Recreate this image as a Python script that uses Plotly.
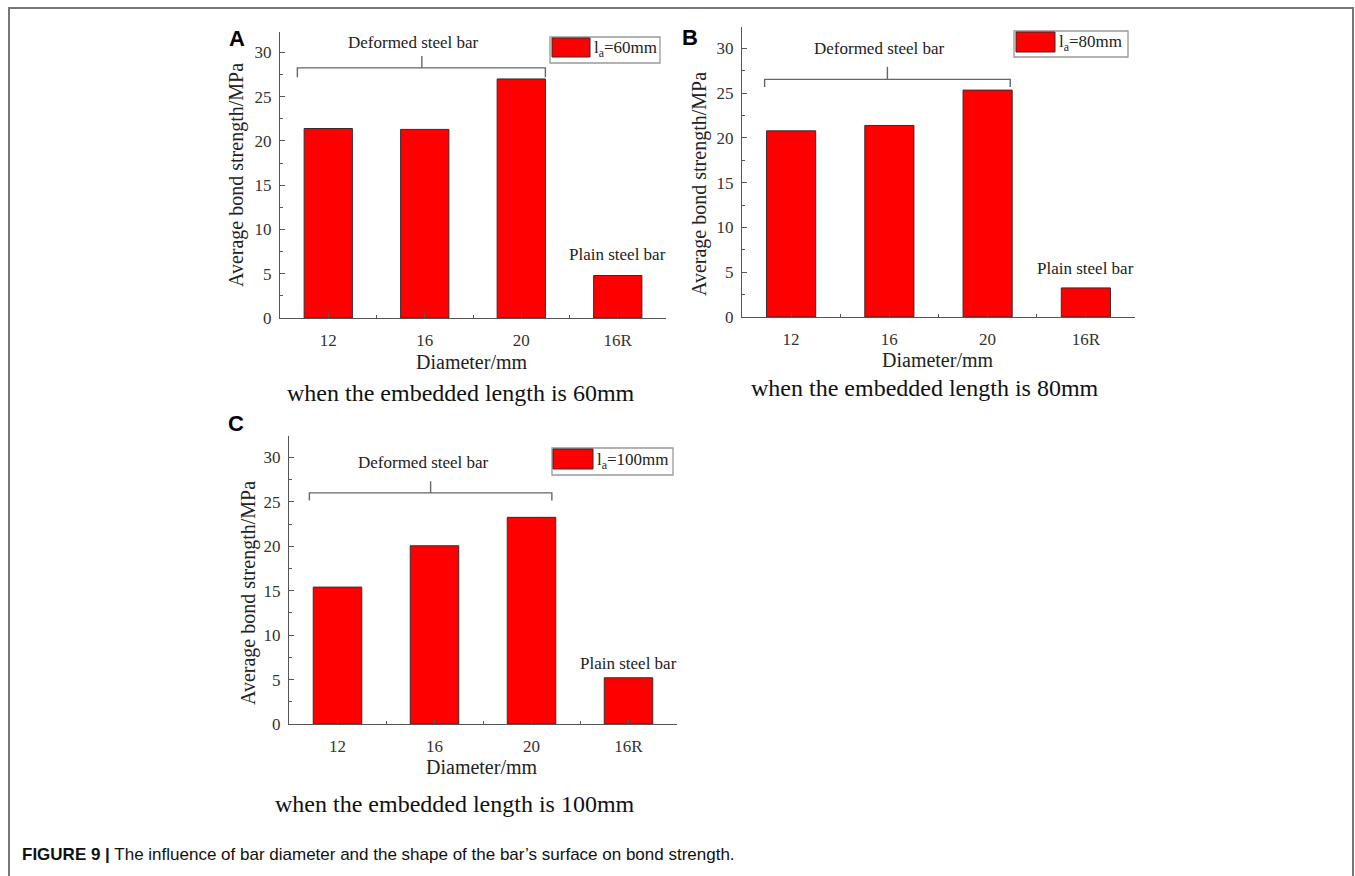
import plotly.graph_objects as go

W, H = 1355, 876
H_EFF = 866  # empirical vertical correction for the capture

# ---- data ----
categories = ["12", "16", "20", "16R"]
strength_60mm = [21.4, 21.3, 27.0, 4.8]
strength_80mm = [20.8, 21.4, 25.35, 3.25]
strength_100mm = [15.4, 20.05, 23.25, 5.2]
legend_labels = ["l<sub>a</sub>=60mm", "l<sub>a</sub>=80mm", "l<sub>a</sub>=100mm"]
captions = ["when the embedded length is 60mm",
            "when the embedded length is 80mm",
            "when the embedded length is 100mm"]
panel_letters = ["A", "B", "C"]

SERIF = "Liberation Serif, Times New Roman, serif"
SANS = "Liberation Sans, Arial, sans-serif"
RED = "#FF0000"


def px(x):
    return x / W


def py(y):
    return 1 - y / H_EFF


# panel geometry in pixels: left, right, top, bottom
panels = [
    dict(l=280, r=666, t=32, b=318, ymax=32.3,
         ytitle=(237, 175), xtitle=(472, 362), cap=(461, 393), letter=(237, 38),
         leg=(550, 660, 37, 63), sw=(552, 590, 38, 57),
         br=(-0.32, 2.25, 0.97, 28.25, 27.2, 29.6), dtext=(0.88, 31.1), ptext=(3.0, 7.2)),
    dict(l=742, r=1135, t=27, b=317, ymax=32.4,
         ytitle=(699, 184), xtitle=(938, 360), cap=(925, 388), letter=(690, 37),
         leg=(1014, 1128, 31, 57), sw=(1016, 1055, 32, 52),
         br=(-0.27, 2.23, 0.98, 26.55, 25.7, 27.95), dtext=(0.9, 30.0), ptext=(3.0, 5.45)),
    dict(l=289, r=677, t=436, b=724, ymax=32.4,
         ytitle=(248, 593), xtitle=(482, 767), cap=(455, 804), letter=(236, 423),
         leg=(552, 673, 448, 475), sw=(553, 593, 449, 469),
         br=(-0.29, 2.21, 0.96, 26.0, 25.15, 27.3), dtext=(0.89, 29.4), ptext=(3.0, 6.8)),
]

series = [strength_60mm, strength_80mm, strength_100mm]

fig = go.Figure()
shapes = []
annotations = []


def text_at(x, y, text, font, **kw):
    d = dict(xref="paper", yref="paper", x=px(x), y=py(y), text=text, showarrow=False,
             xanchor="center", yanchor="middle", font=font)
    d.update(kw)
    annotations.append(d)


for i, (p, vals) in enumerate(zip(panels, series)):
    n = "" if i == 0 else str(i + 1)
    xa, ya = "x" + n, "y" + n
    fig.add_trace(go.Bar(
        x=list(range(len(categories))), y=vals, width=0.5,
        marker=dict(color=RED, line=dict(color="#3a2a2a", width=1)),
        xaxis=xa, yaxis=ya, showlegend=False, name=legend_labels[i]))

    axis_common = dict(showline=True, linecolor="#555", linewidth=1.3, showgrid=False,
                       zeroline=False, ticks="inside", ticklen=5, tickcolor="#555",
                       tickfont=dict(family=SERIF, size=17, color="#333"))
    fig.layout["xaxis" + n] = dict(
        axis_common, domain=[px(p["l"]), px(p["r"])], range=[-0.5, 3.5],
        tickmode="array", tickvals=list(range(len(categories))), ticktext=categories,
        anchor=ya, ticklabelstandoff=6,
        minor=dict(tickmode="array", tickvals=[0.5, 1.5, 2.5], ticks="inside",
                   ticklen=3, tickcolor="#555"))
    fig.layout["yaxis" + n] = dict(
        axis_common, domain=[py(p["b"]), py(p["t"])], range=[0, p["ymax"]],
        tickmode="linear", tick0=0, dtick=5, anchor=xa, ticklabelstandoff=4,
        minor=dict(dtick=2.5, ticks="inside", ticklen=3, tickcolor="#555"))

    # bracket over the deformed bars
    x0, x1, xm, yl, ye, ym = p["br"]
    shapes.append(dict(type="path", xref=xa, yref=ya,
                       path=f"M {x0},{ye} L {x0},{yl} L {x1},{yl} L {x1},{ye}",
                       line=dict(color="#666", width=1.4)))
    shapes.append(dict(type="line", xref=xa, yref=ya, x0=xm, x1=xm, y0=yl, y1=ym,
                       line=dict(color="#666", width=1.4)))
    annotations.append(dict(xref=xa, yref=ya, x=p["dtext"][0], y=p["dtext"][1],
                            xanchor="center", yanchor="middle",
                            text="Deformed steel bar", showarrow=False,
                            font=dict(family=SERIF, size=17, color="#222")))
    annotations.append(dict(xref=xa, yref=ya, x=p["ptext"][0], y=p["ptext"][1],
                            xanchor="center", yanchor="middle",
                            text="Plain steel bar", showarrow=False,
                            font=dict(family=SERIF, size=17, color="#222")))

    # legend box
    lx0, lx1, ly0, ly1 = p["leg"]
    shapes.append(dict(type="rect", xref="paper", yref="paper",
                       x0=px(lx0), x1=px(lx1), y0=py(ly1), y1=py(ly0),
                       line=dict(color="#999", width=1.3), fillcolor="white"))
    sx0, sx1, sy0, sy1 = p["sw"]
    shapes.append(dict(type="rect", xref="paper", yref="paper",
                       x0=px(sx0), x1=px(sx1), y0=py(sy1), y1=py(sy0),
                       line=dict(color="#3a2a2a", width=1), fillcolor=RED))
    text_at(sx1 + 2, (ly0 + ly1) / 2 - 1, legend_labels[i],
            dict(family=SERIF, size=17, color="#222"), xanchor="left")

    # axis titles, caption and panel letter
    text_at(p["ytitle"][0], p["ytitle"][1], "Average bond strength/MPa",
            dict(family=SERIF, size=20, color="#222"), textangle=-90)
    text_at(p["xtitle"][0], p["xtitle"][1], "Diameter/mm",
            dict(family=SERIF, size=20, color="#222"))
    text_at(p["cap"][0], p["cap"][1], captions[i],
            dict(family=SERIF, size=24, color="#111"))
    text_at(p["letter"][0], p["letter"][1], f"<b>{panel_letters[i]}</b>",
            dict(family=SANS, size=22, color="#000"))

# outer figure frame (top, left, right)
shapes.append(dict(type="path", xref="paper", yref="paper",
                   path=f"M {px(9)},-0.05 L {px(9)},{py(8)} L {px(1353)},{py(8)} L {px(1353)},-0.05",
                   line=dict(color="#777", width=2)))

text_at(20, 854, "<b>FIGURE 9 |</b> The influence of bar diameter and the shape of "
                 "the bar\u2019s surface on bond strength.",
        dict(family=SANS, size=17, color="#111"), xanchor="left")

fig.update_layout(width=W, height=H, margin=dict(l=0, r=0, t=0, b=0),
                  paper_bgcolor="white", plot_bgcolor="white",
                  shapes=shapes, annotations=annotations, bargap=0.5)

fig.write_html("out.html")
